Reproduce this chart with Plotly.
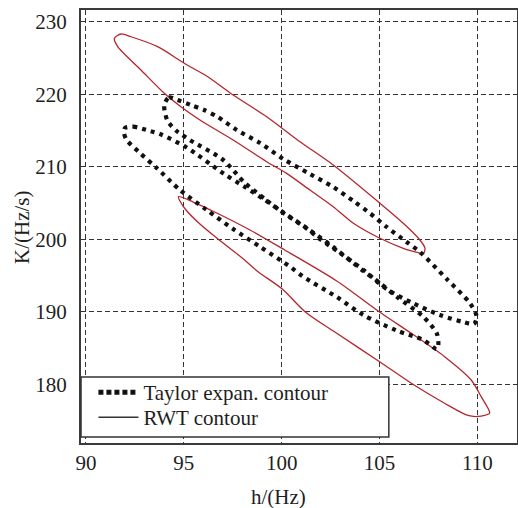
import plotly.graph_objects as go

# ---- data (h in Hz, K in Hz/s) ----
rwt1_h = [91.45, 91.79, 92.30, 93.66, 95.02, 96.22, 97.52, 99.23, 100.93, 102.63, 105.02, 106.21,
          107.06, 107.32, 107.23, 107.06, 106.21, 105.02, 103.66, 102.63, 101.44, 100.25, 99.23,
          97.52, 95.82, 94.85, 94.00, 92.81, 91.62, 91.45]
rwt1_k = [227.72, 228.32, 227.94, 226.57, 224.28, 222.43, 219.90, 216.91, 213.46, 210.25, 204.97, 202.21,
          199.90, 198.76, 197.98, 198.08, 198.76, 200.14, 202.21, 204.50, 206.80, 209.10, 210.70,
          213.70, 216.46, 218.29, 220.14, 223.35, 226.57, 227.72]

rwt2_h = [94.72, 95.48, 96.68, 98.38, 100.15, 102.81, 105.09, 106.62, 108.32, 109.68, 110.19, 110.54,
          110.62, 110.03, 109.51, 108.32, 106.62, 105.02, 102.81, 101.19, 100.03, 98.79, 98.04, 96.68,
          95.82, 95.11, 94.80, 94.72]
rwt2_k = [205.88, 205.14, 203.63, 201.28, 198.53, 194.25, 189.79, 187.03, 183.81, 180.59, 178.29, 176.69,
          176.00, 175.56, 175.70, 177.38, 180.14, 183.08, 187.03, 190.01, 193.14, 195.53, 197.29, 200.18,
          202.11, 204.04, 205.28, 205.88]

taylor1_h = [94.01, 94.24, 94.68, 95.36, 96.04, 96.73, 97.70, 98.89, 100.08, 101.44, 102.63, 103.66,
             104.51, 105.36, 106.38, 107.06, 108.43, 109.62, 109.96, 109.82, 109.27, 108.08, 106.72,
             105.36, 104.17, 102.98, 101.95, 101.27, 100.01, 99.14, 98.12, 97.01, 95.31, 94.63, 94.17,
             94.01, 94.01]
taylor1_k = [218.66, 219.56, 219.21, 218.52, 217.83, 216.87, 215.08, 213.28, 211.08, 209.01, 207.21, 205.28,
             203.59, 201.70, 199.63, 198.25, 194.52, 191.17, 189.32, 188.32, 188.59, 189.56, 191.17,
             193.14, 195.77, 198.11, 200.04, 201.49, 203.77, 205.56, 207.77, 210.94, 213.70, 214.94, 216.32,
             217.83, 218.66]

taylor2_h = [91.99, 92.42, 93.27, 93.78, 95.14, 97.01, 98.12, 99.14, 100.01, 101.27, 102.63, 104.17,
             105.02, 105.87, 107.23, 107.92, 108.00, 107.92, 107.23, 105.87, 104.17, 102.81, 101.10,
             100.42, 98.89, 97.52, 96.17, 94.80, 93.61, 92.76, 92.08, 91.94, 91.99]
taylor2_k = [215.35, 215.53, 214.94, 214.52, 212.66, 209.10, 207.21, 205.42, 203.83, 201.56, 198.94, 195.63,
             193.97, 192.08, 189.32, 187.03, 185.42, 184.87, 186.11, 187.42, 189.56, 192.04, 194.84,
             196.22, 198.98, 201.42, 204.04, 206.80, 209.83, 211.90, 213.70, 214.66, 215.35]

x_ticks = [90, 95, 100, 105, 110]
y_ticks = [180, 190, 200, 210, 220, 230]
legend_names = ["Taylor expan. contour", "RWT contour"]
x_title = "h/(Hz)"
y_title = "K/(Hz/s)"

RED = "#b5262b"
FONT = "Liberation Serif"
TXT = "#1e1e1e"

fig = go.Figure()
for hh, kk in [(rwt1_h, rwt1_k), (rwt2_h, rwt2_k)]:
    fig.add_trace(go.Scatter(x=hh, y=kk, mode="lines", showlegend=False, hoverinfo="skip",
                             line=dict(color=RED, width=1.3, shape="spline", smoothing=0.8)))
for hh, kk in [(taylor1_h, taylor1_k), (taylor2_h, taylor2_k)]:
    fig.add_trace(go.Scatter(x=hh, y=kk, mode="lines", showlegend=False, hoverinfo="skip",
                             line=dict(color="#111111", width=4.2, dash="4px,5px", shape="spline", smoothing=0.8)))

# legend-only entries (each in its own legend for exact row placement)
fig.add_trace(go.Scatter(x=[None], y=[None], mode="lines", name=legend_names[0], legend="legend",
                         line=dict(color="#111111", width=5, dash="5px,3px")))
fig.add_trace(go.Scatter(x=[None], y=[None], mode="lines", name=legend_names[1], legend="legend2",
                         line=dict(color="#333333", width=1.5)))

# legend box
fig.add_shape(type="rect", xref="paper", yref="paper", x0=0, x1=0.706, y0=0.0139, y1=0.1524,
              line=dict(color="#333333", width=1.5), fillcolor="white", layer="above")

axis_common = dict(showline=True, mirror=True, linecolor="#3a3a3a", linewidth=2,
                   showgrid=True, gridcolor="#333333", gridwidth=1.3, griddash="5px,3px",
                   zeroline=False, ticks="", automargin=False,
                   tickfont=dict(family=FONT, size=21, color=TXT))

leg_common = dict(xanchor="left", yanchor="top", bgcolor="rgba(0,0,0,0)", borderwidth=0,
                  font=dict(family=FONT, size=21, color=TXT), itemwidth=40)

fig.update_layout(
    width=518, height=508,
    margin=dict(l=81, r=1, t=10, b=65, autoexpand=False),
    paper_bgcolor="white", plot_bgcolor="white",
    xaxis=dict(range=[89.745, 112.02], tickvals=x_ticks, ticklabelstandoff=0, **axis_common),
    yaxis=dict(range=[171.9, 231.63], tickvals=y_ticks, ticklabelstandoff=8, **axis_common),
    legend=dict(x=0.0285, y=0.164, **leg_common),
    legend2=dict(x=0.0285, y=0.106, **leg_common),
    showlegend=True,
    annotations=[
        dict(text=x_title, xref="paper", yref="paper", x=0.452, y=-0.1247, xanchor="center",
             yanchor="middle", showarrow=False, font=dict(family=FONT, size=21, color=TXT)),
        dict(text=y_title, xref="paper", yref="paper", x=-0.1353, y=0.4965, xanchor="center",
             yanchor="middle", textangle=-90, showarrow=False, font=dict(family=FONT, size=21, color=TXT)),
    ],
)

fig.write_html("out.html", config={"displayModeBar": False},
               post_script="document.body.style.margin='0';document.body.style.padding='0';")
